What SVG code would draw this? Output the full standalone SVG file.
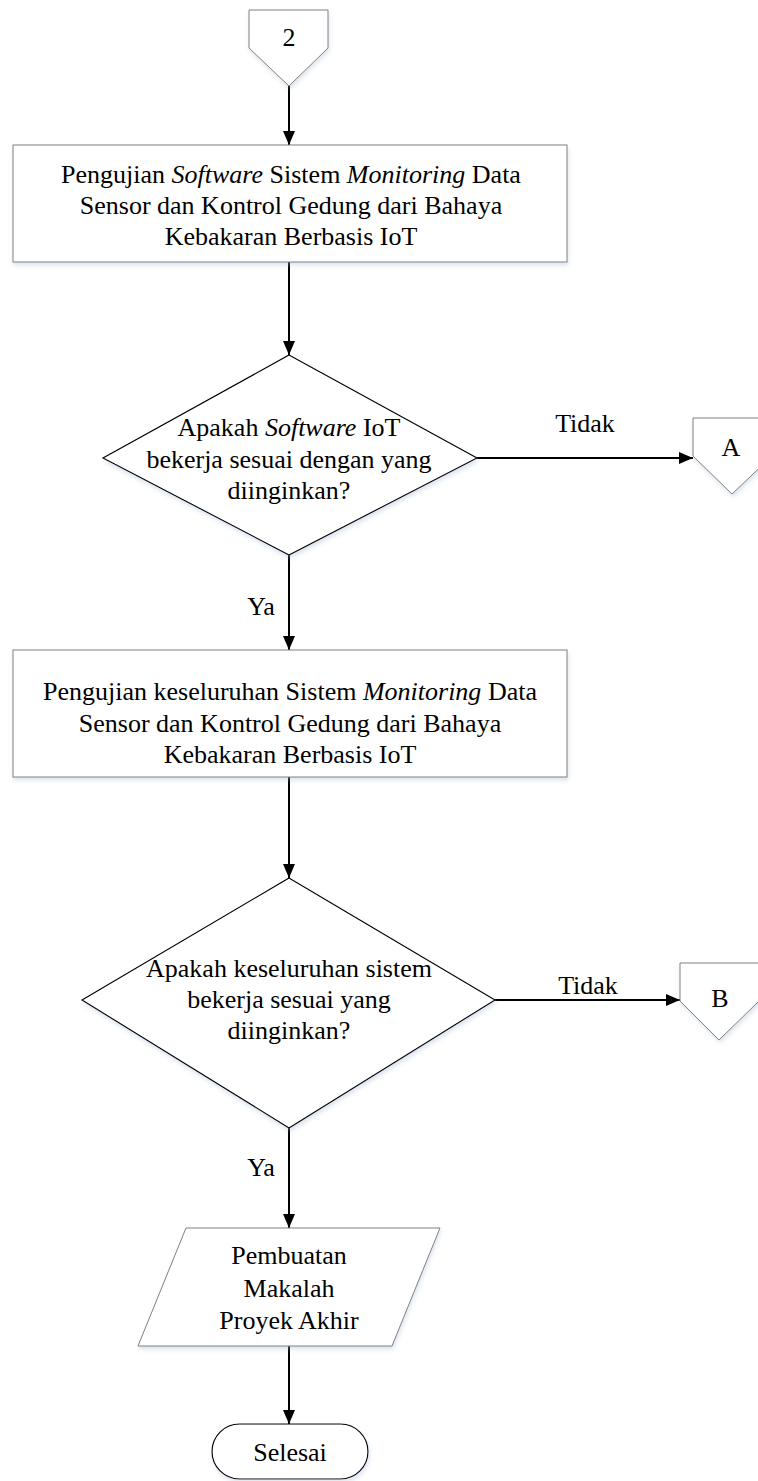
<svg xmlns="http://www.w3.org/2000/svg" width="758" height="1481" viewBox="0 0 758 1481">
<style>
text{font-family:"Liberation Serif","Times New Roman",serif;font-size:26px;fill:#000;text-anchor:middle}
.i{font-style:italic}
.gray{fill:#fff;stroke:#808080;stroke-width:1}
.blk{fill:#fff;stroke:#000;stroke-width:1.2}
.edge{stroke:#000;stroke-width:2;fill:none;marker-end:url(#ah)}
</style>
<defs>
<marker id="ah" viewBox="0 0 14 12" refX="14" refY="6" markerWidth="7" markerHeight="6" markerUnits="strokeWidth" orient="auto">
<path d="M0,0 L14,6 L0,12 z" fill="#000"/>
</marker>
<filter id="sh" x="-10%" y="-10%" width="120%" height="130%">
<feDropShadow dx="1" dy="3" stdDeviation="2" flood-color="#9fb4d0" flood-opacity="0.35"/>
</filter>
</defs>
<g id="connectors">
<line class="edge" x1="289" y1="86" x2="289" y2="145"/>
<line class="edge" x1="289" y1="262" x2="289" y2="355"/>
<line class="edge" x1="477" y1="458" x2="693" y2="458"/>
<line class="edge" x1="289" y1="555" x2="289" y2="650"/>
<line class="edge" x1="289" y1="777" x2="289" y2="878"/>
<line class="edge" x1="495" y1="1000" x2="680" y2="1000"/>
<line class="edge" x1="289" y1="1128" x2="289" y2="1228"/>
<line class="edge" x1="289" y1="1346" x2="289" y2="1424"/>
<text x="585" y="432">Tidak</text>
<text x="261" y="615">Ya</text>
<text x="588" y="994">Tidak</text>
<text x="261" y="1176">Ya</text>
</g>
<g id="conn2">
<polygon class="gray" filter="url(#sh)" points="249,10 328,10 328,48 289,86 249,48"/>
<text x="289" y="46">2</text>
</g>
<g id="box1">
<rect class="gray" filter="url(#sh)" x="13" y="145" width="554" height="117"/>
<text x="291" y="183">Pengujian <tspan class="i">Software</tspan> Sistem <tspan class="i">Monitoring</tspan> Data</text>
<text x="291" y="214">Sensor dan Kontrol Gedung dari Bahaya</text>
<text x="291" y="245">Kebakaran Berbasis IoT</text>
</g>
<g id="dec1">
<polygon class="blk" filter="url(#sh)" points="289,355 477,458 289,555 103,458"/>
<text x="289" y="436">Apakah <tspan class="i">Software</tspan> IoT</text>
<text x="289" y="468">bekerja sesuai dengan yang</text>
<text x="289" y="499">diinginkan?</text>
</g>
<g id="connA">
<polygon class="gray" filter="url(#sh)" points="693,418 772,418 772,456 732,494 693,456"/>
<text x="731" y="456">A</text>
</g>
<g id="box2">
<rect class="gray" filter="url(#sh)" x="13" y="650" width="554" height="127"/>
<text x="290" y="700">Pengujian keseluruhan Sistem <tspan class="i">Monitoring</tspan> Data</text>
<text x="290" y="732">Sensor dan Kontrol Gedung dari Bahaya</text>
<text x="290" y="763">Kebakaran Berbasis IoT</text>
</g>
<g id="dec2">
<polygon class="blk" filter="url(#sh)" points="289,878 495,1000 289,1128 82,1000"/>
<text x="289" y="977">Apakah keseluruhan sistem</text>
<text x="289" y="1008">bekerja sesuai yang</text>
<text x="289" y="1039">diinginkan?</text>
</g>
<g id="connB">
<polygon class="gray" filter="url(#sh)" points="680,963 759,963 759,1001 719,1040 680,1001"/>
<text x="720" y="1007">B</text>
</g>
<g id="io">
<polygon class="gray" filter="url(#sh)" points="186,1228 440,1228 392,1346 138,1346"/>
<text x="289" y="1264">Pembuatan</text>
<text x="289" y="1297">Makalah</text>
<text x="289" y="1329">Proyek Akhir</text>
</g>
<g id="end">
<rect class="blk" filter="url(#sh)" x="212" y="1424" width="156" height="55" rx="27.5" ry="27.5"/>
<text x="290" y="1461">Selesai</text>
</g>
</svg>
